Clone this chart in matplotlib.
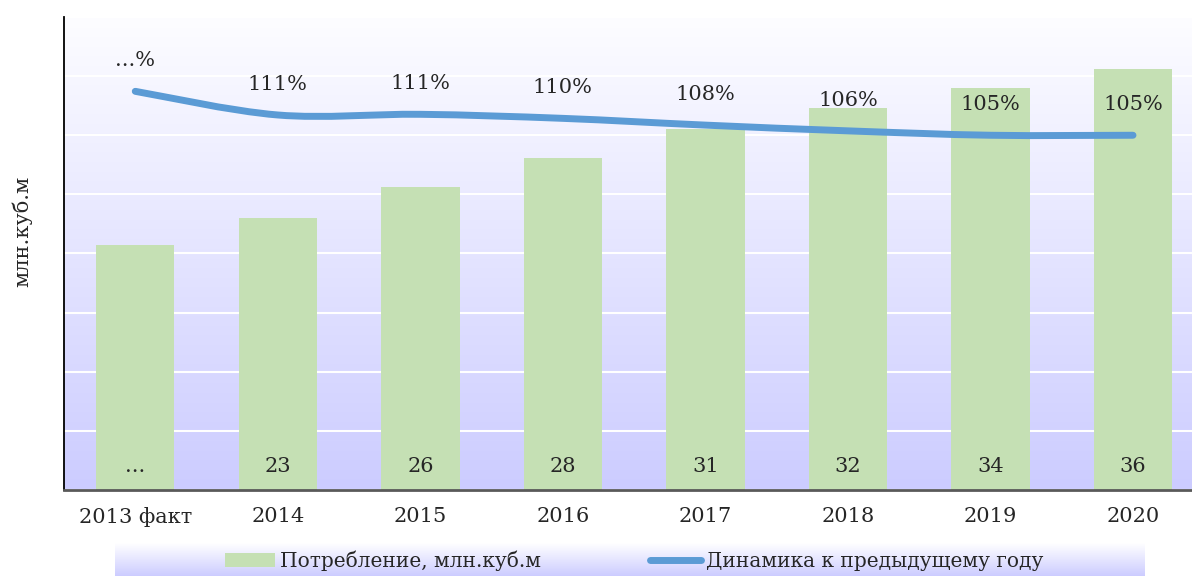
import numpy as np
import matplotlib
matplotlib.use("Agg")
import matplotlib.pyplot as plt
from matplotlib.path import Path
from matplotlib.patches import PathPatch, Patch
from matplotlib.lines import Line2D
from matplotlib.colors import LinearSegmentedColormap

plt.rcParams['font.family'] = ['DejaVu Serif']

# данные
years = ['2013 факт', '2014', '2015', '2016', '2017', '2018', '2019', '2020']
consumption = [20.7, 23.0, 25.6, 28.1, 30.5, 32.3, 34.0, 35.6]
consumption_lbl = ['...', '23', '26', '28', '31', '32', '34', '36']
dynamics = [1.18, 1.11, 1.112, 1.10, 1.08, 1.063, 1.05, 1.05]
dynamics_lbl = ['...%', '111%', '111%', '110%', '108%', '106%', '105%', '105%']

bar_col = '#c5e0b4'
line_col = '#5b9bd5'
txt_col = '#262626'
fs = 15

fig = plt.figure(figsize=(11.92, 5.76), dpi=100)
ax = fig.add_axes([64/1192, 86/576, 1128/1192, 473/576])

# фон с градиентом
grad = LinearSegmentedColormap.from_list('bg', ['#ccccff', '#fdfdff'])
ax.imshow(np.linspace(0, 1, 256).reshape(-1, 1), cmap=grad, origin='lower',
          extent=[0, 1, 0, 1], transform=ax.transAxes, aspect='auto', zorder=0)

x = np.arange(len(years))
ax.bar(x, consumption, width=0.55, color=bar_col, zorder=2)
ax.set_xlim(-0.5, 7.414)
ax.set_ylim(0, 40)
ax.set_yticks(np.arange(0, 41, 5))
ax.yaxis.grid(True, color='white', lw=1.5, zorder=1)
ax.set_axisbelow(True)
ax.set_yticklabels([])
ax.tick_params(axis='y', length=0)
ax.set_xticks(x)
ax.set_xticklabels(years, fontsize=fs, color=txt_col)
ax.tick_params(axis='x', length=0, pad=12)
for s in ['top', 'right']:
    ax.spines[s].set_visible(False)
ax.spines['left'].set_color('black')
ax.spines['left'].set_linewidth(1.3)
ax.spines['bottom'].set_color('#595959')
ax.spines['bottom'].set_linewidth(2)
ax.spines['left'].set_zorder(5)
ax.spines['bottom'].set_zorder(5)

for xi, lb in zip(x, consumption_lbl):
    ax.text(xi, 2.0, lb, ha='center', va='center', fontsize=fs, color=txt_col, zorder=4)

# сглаженная линия
ax2 = ax.twinx()
ax2.set_ylim(0, 1.4)
ax2.axis('off')
pts = np.column_stack([x, dynamics]).astype(float)
verts = [pts[0]]
codes = [Path.MOVETO]
n = len(pts)
for i in range(n - 1):
    p0 = pts[i - 1] if i > 0 else pts[i]
    p1 = pts[i]
    p2 = pts[i + 1]
    p3 = pts[i + 2] if i + 2 < n else pts[i + 1]
    verts += [p1 + (p2 - p0) / 6, p2 - (p3 - p1) / 6, p2]
    codes += [Path.CURVE4] * 3
ax2.add_patch(PathPatch(Path(verts, codes), fill=False, edgecolor=line_col,
                        lw=5, capstyle='round', joinstyle='round', zorder=3))
for xi, yi, lb in zip(x, dynamics, dynamics_lbl):
    ax2.annotate(lb, (xi, yi), xytext=(0, 22), textcoords='offset points',
                 ha='center', va='center', fontsize=fs, color=txt_col)

fig.text(22/1192, 1 - 231/576, 'млн.куб.м', rotation=90, ha='center', va='center',
         fontsize=fs, color=txt_col)

# легенда
lax = fig.add_axes([115/1192, 0, 1030/1192, 33/576])
lgrad = LinearSegmentedColormap.from_list('lg', ['#ccccff', '#ffffff'])
lax.imshow(np.linspace(0, 1, 256).reshape(-1, 1), cmap=lgrad, origin='lower',
           extent=[0, 1, 0, 1], aspect='auto')
lax.axis('off')
handles = [Patch(facecolor=bar_col, edgecolor='none'),
           Line2D([0], [0], color=line_col, lw=5, solid_capstyle='round')]
fig.legend(handles, ['Потребление, млн.куб.м', 'Динамика к предыдущему году'],
           loc='center', bbox_to_anchor=(634/1192, 1 - 561/576), ncol=2,
           frameon=False, fontsize=14.5, handlelength=2.5, handletextpad=0.25,
           columnspacing=5.4, labelcolor=txt_col)

fig.savefig('out.png', dpi=100)
